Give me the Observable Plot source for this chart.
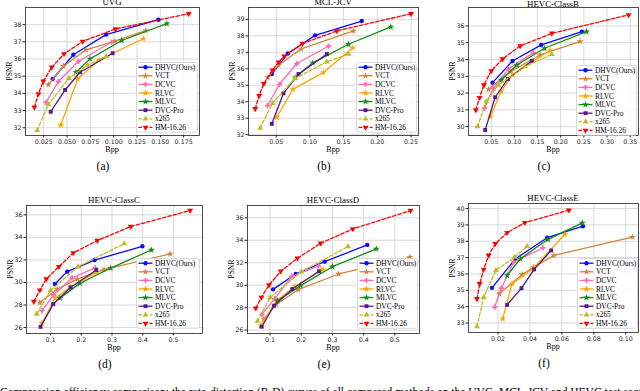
<!DOCTYPE html>
<html><head><meta charset="utf-8">
<script src="https://cdn.jsdelivr.net/npm/d3@7"></script>
<script src="https://cdn.jsdelivr.net/npm/@observablehq/plot@0.6"></script>
<style>
body{margin:0;background:#fff;}
#fig{position:relative;width:640px;height:391px;overflow:hidden;background:#fff;}
.t{position:absolute;font-family:"Liberation Serif",serif;color:#000;white-space:nowrap;line-height:1;}
svg{overflow:visible;}
</style></head><body><div id="fig"></div>
<script>
// series order: DHVC(Ours), VCT, DCVC, RLVC, MLVC, DVC-Pro, x265, HM-16.26
const methods = ["DHVC(Ours)", "VCT", "DCVC", "RLVC", "MLVC", "DVC-Pro", "x265", "HM-16.26"];

const uvgBpp = [
  [0.0346, 0.0568, 0.0918, 0.148],
  [0.030, 0.0461, 0.0704, 0.1014, 0.1343],
  [0.0275, 0.0407, 0.0621, 0.0979],
  [0.0432, 0.0614, 0.0843, 0.1318],
  [0.0596, 0.0746, 0.1086, 0.157],
  [0.0325, 0.0479, 0.0639, 0.0989],
  [0.018, 0.030, 0.052, 0.072, 0.092],
  [0.015, 0.0193, 0.0246, 0.0336, 0.0468, 0.0668, 0.1021, 0.1804]
];
const uvgPsnr = [
  [34.84, 36.25, 37.42, 38.29],
  [34.51, 35.58, 36.54, 37.04, 37.65],
  [33.48, 34.69, 35.86, 36.99],
  [32.15, 34.84, 35.95, 37.18],
  [35.23, 36.01, 37.08, 38.06],
  [32.93, 34.2, 35.23, 36.34],
  [31.85, 33.35, 34.88, 35.65, 36.15],
  [33.19, 33.97, 34.71, 35.52, 36.30, 37.03, 37.75, 38.64]
];

const mclBpp = [
  [0.0436, 0.0673, 0.1078, 0.1769],
  [0.0377, 0.0535, 0.087, 0.1646],
  [0.0372, 0.0549, 0.0806, 0.1275],
  [0.051, 0.0747, 0.1201, 0.1636],
  [0.0781, 0.1043, 0.1572, 0.2199],
  [0.0436, 0.0609, 0.0831, 0.1251],
  [0.0263, 0.0446, 0.0781, 0.1251, 0.1572],
  [0.0189, 0.0248, 0.0317, 0.0446, 0.0535, 0.0619, 0.089, 0.1399, 0.25]
];
const mclPsnr = [
  [35.68, 36.93, 38.03, 38.9],
  [35.48, 36.22, 37.21, 38.3],
  [33.77, 35.06, 36.32, 37.37],
  [33.06, 34.75, 35.78, 37.27],
  [35.46, 36.36, 37.49, 38.54],
  [32.66, 34.51, 35.68, 36.89],
  [32.4, 33.91, 35.42, 36.42, 36.89],
  [33.57, 34.37, 35.1, 35.92, 36.4, 36.77, 37.53, 38.3, 39.34]
];

const classBBpp = [
  [0.0529, 0.096, 0.1579, 0.2457],
  [0.0442, 0.091, 0.1558, 0.242],
  [0.0356, 0.055, 0.0874, 0.1414],
  [0.0486, 0.0716, 0.096, 0.1773],
  [0.0716, 0.1054, 0.1651, 0.2558],
  [0.037, 0.0586, 0.086, 0.1378],
  [0.0205, 0.0392, 0.0658, 0.1234, 0.1809],
  [0.0169, 0.0248, 0.0342, 0.05, 0.0745, 0.1126, 0.1809, 0.3464]
];
const classBPsnr = [
  [32.62, 33.91, 34.87, 35.66],
  [32.22, 33.28, 34.27, 35.08],
  [31.1, 32.3, 33.44, 34.41],
  [30.6, 32.1, 33.1, 34.55],
  [32.78, 33.67, 34.67, 35.66],
  [29.8, 31.75, 32.84, 33.92],
  [30.0, 31.49, 32.48, 33.58, 34.31],
  [30.99, 31.73, 32.48, 33.32, 34.03, 34.81, 35.56, 36.66]
];

const classCBpp = [
  [0.1141, 0.1543, 0.2435, 0.3989],
  [0.0652, 0.1217, 0.187, 0.2739, 0.4891],
  [0.072, 0.11, 0.17, 0.245],
  [0.072, 0.115, 0.165, 0.25],
  [0.1304, 0.1957, 0.2957, 0.4283],
  [0.0674, 0.1087, 0.1652, 0.2489],
  [0.055, 0.1, 0.19, 0.34],
  [0.0457, 0.0652, 0.0859, 0.1272, 0.1739, 0.2522, 0.3609, 0.5543]
];
const classCPsnr = [
  [29.86, 30.96, 31.99, 33.21],
  [28.22, 29.41, 30.3, 31.13, 32.53],
  [27.5, 28.9, 30.4, 31.3],
  [26.4, 28.6, 29.6, 30.9],
  [28.61, 29.92, 31.28, 32.88],
  [26.06, 28.08, 29.56, 31.1],
  [27.2, 29.3, 31.4, 33.45],
  [28.31, 29.32, 30.3, 31.4, 32.62, 33.72, 34.96, 36.39]
];

const classDBpp = [
  [0.1096, 0.1822, 0.275, 0.4116],
  [0.08, 0.12, 0.19, 0.32, 0.548],
  [0.074, 0.115, 0.17, 0.255],
  [0.07, 0.12, 0.18, 0.27],
  [0.1235, 0.1982, 0.2996, 0.4405],
  [0.0733, 0.1128, 0.1715, 0.2569],
  [0.06, 0.1, 0.2, 0.35],
  [0.0541, 0.0723, 0.0968, 0.1342, 0.1875, 0.2622, 0.3657, 0.5504]
];
const classDPsnr = [
  [29.63, 31.0, 32.1, 33.59],
  [27.0, 28.3, 29.6, 31.0, 32.49],
  [27.4, 28.8, 30.8, 31.7],
  [26.4, 28.6, 29.9, 31.4],
  [28.62, 29.96, 31.65, 33.23],
  [26.3, 28.17, 29.66, 31.24],
  [26.8, 28.9, 31.2, 33.45],
  [27.96, 28.92, 30.02, 31.24, 32.4, 33.74, 35.02, 36.65]
];

const classEBpp = [
  [0.0162, 0.0309, 0.0508, 0.0732],
  [0.0208, 0.0351, 0.0424, 0.055, 0.1042],
  [0.0179, 0.0221, 0.0298, 0.0481],
  [0.0229, 0.0288, 0.0418, 0.0619],
  [0.0257, 0.034, 0.0514, 0.0728],
  [0.0257, 0.0347, 0.0426, 0.0533],
  [0.0068, 0.011, 0.0187, 0.0305, 0.0382],
  [0.0068, 0.0085, 0.011, 0.0141, 0.0183, 0.0257, 0.0368, 0.0644]
];
const classEPsnr = [
  [35.15, 36.93, 38.22, 38.92],
  [34.79, 35.97, 36.42, 37.14, 38.26],
  [33.97, 35.13, 36.73, 37.59],
  [33.25, 35.4, 36.32, 38.43],
  [35.91, 36.93, 38.12, 39.12],
  [34.11, 35.13, 36.28, 37.44],
  [32.78, 34.58, 36.22, 37.03, 37.69],
  [34.48, 35.4, 36.28, 37.14, 37.85, 38.53, 39.14, 39.9]
];

// tick labels
const uvgXTicks = [0.025, 0.05, 0.075, 0.1, 0.125, 0.15, 0.175];
const uvgYTicks = [32, 33, 34, 35, 36, 37, 38];
const mclXTicks = [0.05, 0.1, 0.15, 0.2, 0.25];
const mclYTicks = [32, 33, 34, 35, 36, 37, 38, 39];
const classBXTicks = [0.05, 0.1, 0.15, 0.2, 0.25, 0.3, 0.35];
const classBYTicks = [30, 31, 32, 33, 34, 35, 36];
const classCXTicks = [0.1, 0.2, 0.3, 0.4, 0.5];
const classCYTicks = [26, 28, 30, 32, 34, 36];
const classDXTicks = [0.1, 0.2, 0.3, 0.4, 0.5];
const classDYTicks = [26, 28, 30, 32, 34, 36];
const classEXTicks = [0.02, 0.04, 0.06, 0.08, 0.1];
const classEYTicks = [33, 34, 35, 36, 37, 38, 39, 40];

// styles
const colors = ["#0a0aff", "#cd853f", "#ff69b4", "#ffa500", "#178a17", "#551a8b", "#bcbd22", "#ff0000"];
const symbols = ["circle", "star", "cross", "star", "star", "square", "triangle", "triangle"];
const d3symbols = [d3.symbolCircle, d3.symbolStar, d3.symbolCross, d3.symbolStar, d3.symbolStar, d3.symbolSquare, d3.symbolTriangle, d3.symbolTriangle];
const rotations = [0, 0, 0, 0, 0, 0, 0, 180];
const dashes = [null, null, null, null, null, null, "3.5,2", "3.5,2"];

const panels = [
  {title: "UVG", sub: "(a)", bpp: uvgBpp, psnr: uvgPsnr, xt: uvgXTicks, yt: uvgYTicks, xf: ".3f",
   x0: 0, y0: 0, fr: [25, 199, 7, 135], xd: [0.0055, 0.192], yd: [31.55, 39.0], tb: 5, lg: [136, 62, 62]},
  {title: "MCL-JCV", sub: "(b)", bpp: mclBpp, psnr: mclPsnr, xt: mclXTicks, yt: mclYTicks, xf: ".2f",
   x0: 215, y0: 0, fr: [248, 418, 7, 135], xd: [0.009, 0.261], yd: [31.95, 39.72], tb: 5, lg: [356, 62, 61]},
  {title: "HEVC-ClassB", sub: "(c)", bpp: classBBpp, psnr: classBPsnr, xt: classBXTicks, yt: classBYTicks, xf: ".2f",
   x0: 425, y0: 0, fr: [468, 638, 7, 135], xd: [0.001, 0.368], yd: [29.47, 37.1], tb: 7, lg: [576, 65, 61]},
  {title: "HEVC-ClassC", sub: "(d)", bpp: classCBpp, psnr: classCPsnr, xt: classCXTicks, yt: classCYTicks, xf: ".1f",
   x0: 0, y0: 190, fr: [26, 202, 205, 333], xd: [0.0217, 0.5946], yd: [25.47, 36.83], tb: 203, lg: [136, 258, 64]},
  {title: "HEVC-ClassD", sub: "(e)", bpp: classDBpp, psnr: classDPsnr, xt: classDXTicks, yt: classDYTicks, xf: ".1f",
   x0: 215, y0: 190, fr: [247, 419, 205, 333], xd: [0.0277, 0.579], yd: [25.7, 37.1], tb: 203, lg: [357, 258, 61]},
  {title: "HEVC-ClassE", sub: "(f)", bpp: classEBpp, psnr: classEPsnr, xt: classEXTicks, yt: classEYTicks, xf: ".2f",
   x0: 425, y0: 190, fr: [468, 638, 203, 332], xd: [0.0015, 0.108], yd: [32.42, 40.31], tb: 201, lg: [577, 258, 61]}
];

const fig = document.getElementById("fig");

function addText(txt, left, top, size, opts = {}) {
  const d = document.createElement("div");
  d.className = "t";
  d.textContent = txt;
  d.style.left = left + "px";
  d.style.top = top + "px";
  d.style.fontSize = size + "px";
  d.style.transform = opts.transform || "translate(-50%, 0)";
  if (opts.weight) d.style.fontWeight = opts.weight;
  fig.appendChild(d);
  return d;
}

function drawLegend(left, top, width) {
  const rowH = 8.6, h = 8 * rowH + 2;
  const svg = d3.select(fig).append("svg")
    .style("position", "absolute").style("left", left + "px").style("top", top + "px")
    .attr("width", width).attr("height", h);
  svg.append("rect").attr("x", 0.5).attr("y", 0.5).attr("width", width - 1).attr("height", h - 1).attr("rx", 2)
    .attr("fill", "white").attr("fill-opacity", 0.85).attr("stroke", "#d0d0d0").attr("stroke-width", 0.8);
  methods.forEach((m, i) => {
    const cy = 5.2 + i * rowH;
    svg.append("line").attr("x1", 2.5).attr("x2", 16.5).attr("y1", cy).attr("y2", cy)
      .attr("stroke", colors[i]).attr("stroke-width", 1.3).attr("stroke-dasharray", dashes[i]);
    svg.append("path").attr("d", d3.symbol(d3symbols[i], 15)())
      .attr("transform", `translate(9.5,${cy}) rotate(${rotations[i]})`).attr("fill", colors[i]);
    svg.append("text").attr("x", 19).attr("y", cy).attr("dy", "0.34em").text(m)
      .style("font-family", "'Liberation Serif', serif").style("font-size", "7.4px").attr("fill", "#000");
  });
}

panels.forEach(p => {
  const W = 215, H = 162;
  const marks = [
    Plot.gridX(p.xt, {stroke: "#cfcfcf", strokeOpacity: 1, strokeWidth: 0.8}),
    Plot.gridY(p.yt, {stroke: "#cfcfcf", strokeOpacity: 1, strokeWidth: 0.8}),
    Plot.axisX(p.xt, {tickSize: 2.5, tickPadding: 1.5, tickFormat: d3.format(p.xf), label: null, fontSize: 6.3}),
    Plot.axisY(p.yt, {tickSize: 2.5, tickPadding: 1.5, tickFormat: d3.format("d"), label: null, fontSize: 6.3})
  ];
  methods.forEach((m, i) => {
    const pts = d3.zip(p.bpp[i], p.psnr[i]).map(([x, y]) => ({x, y}));
    marks.push(Plot.line(pts, {x: "x", y: "y", stroke: colors[i], strokeWidth: 1.3, strokeDasharray: dashes[i]}));
    marks.push(Plot.dot(pts, {x: "x", y: "y", symbol: symbols[i], r: 2.2, fill: colors[i], stroke: "none", rotate: rotations[i]}));
  });
  marks.push(Plot.frame({stroke: "#222", strokeWidth: 0.8}));
  const svg = Plot.plot({
    width: W, height: H,
    marginLeft: p.fr[0] - p.x0, marginRight: p.x0 + W - p.fr[1],
    marginTop: p.fr[2] - p.y0, marginBottom: p.y0 + H - p.fr[3],
    x: {domain: p.xd},
    y: {domain: p.yd},
    style: {fontFamily: "'DejaVu Sans', sans-serif", fontSize: "6.3px", color: "#222", background: "transparent", overflow: "visible"},
    marks
  });
  svg.style.position = "absolute";
  svg.style.left = p.x0 + "px";
  svg.style.top = p.y0 + "px";
  fig.appendChild(svg);

  const cx = (p.fr[0] + p.fr[1]) / 2;
  const cy = (p.fr[2] + p.fr[3]) / 2;
  addText(p.title, cx, p.tb - 7, 8.8);
  addText("Bpp", cx, p.fr[3] + 11, 8);
  addText("PSNR", p.fr[0] - 15.5, cy, 7.5, {transform: "translate(-50%, -50%) rotate(-90deg)"});
  addText(p.sub, cx - 9, p.fr[3] + 26, 11.5);
  drawLegend(p.lg[0], p.lg[1], p.lg[2]);
});

addText("Compression efficiency comparison: the rate-distortion (R-D) curves of all compared methods on the UVG, MCL-JCV and HEVC test sequences.", 0, 386.5, 11.5, {transform: "none"});
</script>
</body></html>
